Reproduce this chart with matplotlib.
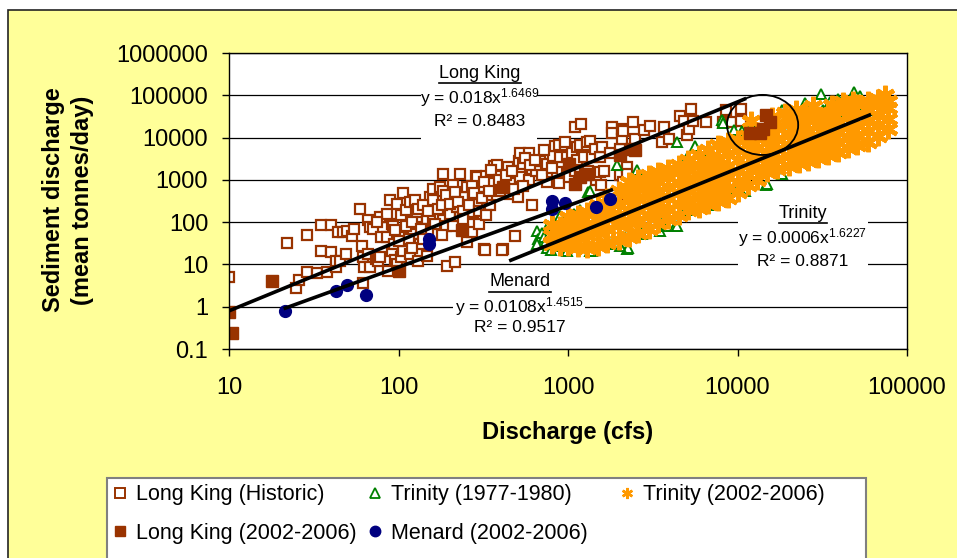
import matplotlib
matplotlib.use("Agg")
import matplotlib.pyplot as plt
import matplotlib.ticker as mticker
from matplotlib.patches import Rectangle, Ellipse
from matplotlib.lines import Line2D

plt.rcParams['font.family'] = ['Liberation Sans', 'DejaVu Sans']
plt.rcParams['mathtext.default'] = 'regular'

# ---- data (discharge cfs, sediment tonnes/day) ----
lk_hist = [
    (10, 5), (22, 32), (25, 2.8), (26, 4.3), (29, 6.5), (29, 50), (33, 6.3), (35, 85), (40, 85),
    (35, 21), (40, 20), (38, 6.5), (43, 8.5), (43, 12), (45, 12), (49, 18), (44, 60), (47, 57),
    (50, 62), (53, 48), (55, 69), (59, 200), (61, 28), (62, 15), (62, 3.7), (63, 8.5), (66, 112),
    (66, 18), (68, 8.5), (68, 75), (71, 70), (74, 13.5), (76, 12), (78, 131), (78, 15), (79, 44),
    (85, 44), (87, 7), (89, 330), (91, 21), (91, 91), (93, 83), (94, 30), (96, 13), (98, 10),
    (98, 275), (103, 145), (103, 15), (106, 500), (107, 21), (107, 44), (111, 190), (117, 18),
    (117, 300), (122, 53), (125, 330), (128, 130), (128, 170), (131, 12), (134, 30), (146, 225),
    (147, 120), (147, 16), (153, 390), (160, 330), (160, 110), (160, 610), (175, 145), (175, 670),
    (183, 110), (184, 1400), (184, 560), (190, 83), (192, 330), (193, 9.3), (200, 160), (210, 740),
    (210, 360), (216, 11.5), (220, 225), (230, 1400), (230, 130), (240, 390), (252, 670), (252, 34),
    (263, 90), (275, 330), (275, 170), (288, 1250), (289, 275), (289, 1150), (296, 470), (301, 670),
    (318, 23), (330, 1250), (331, 390), (345, 250), (345, 900), (360, 830), (365, 2100), (380, 2200),
    (400, 560), (415, 23), (445, 2000), (455, 830), (455, 470), (490, 48), (510, 390), (513, 2800),
    (520, 4400), (520, 1150), (545, 2400), (590, 4400), (590, 1000), (610, 1800), (610, 250),
    (650, 1650), (685, 2800), (750, 900), (750, 2400), (820, 3700), (840, 6200), (860, 1550),
    (880, 830), (880, 6500), (900, 3500), (960, 6500), (960, 8000), (985, 3500), (1020, 1150),
    (1050, 4300), (1100, 17900), (1100, 1650), (1125, 6000), (1125, 2900), (1180, 6500),
    (1200, 21000), (1250, 3500), (1290, 6500), (1290, 1400), (1290, 8000), (1320, 1650),
    (1350, 8500), (1380, 3500), (1440, 5500), (1470, 1000), (1540, 1550), (1540, 3500), (1570, 740),
    (1580, 6000), (1620, 1650), (1770, 4300), (1810, 17900), (1810, 12500), (2030, 5500),
    (2030, 1300), (2080, 9500), (2080, 16000), (2110, 14000), (2110, 900), (2110, 470), (2220, 2000),
    (2230, 1400), (2430, 23000), (2480, 9500), (2790, 15000), (3050, 19000), (3570, 8000),
    (3670, 17900), (3930, 9500), (4580, 33000), (4860, 25000), (5010, 11500), (5200, 16000),
    (5350, 47000), (5470, 25000), (6540, 23000), (8200, 23000), (8600, 45000), (9200, 23000),
    (10500, 47000), (10500, 25000), (325, 22), (410, 22),
    (110, 80), (120, 100), (130, 200), (140, 250), (150, 180), (165, 90), (170, 200), (180, 260),
    (190, 450), (200, 270), (215, 520), (225, 300), (240, 180), (260, 250), (270, 700), (280, 500),
    (300, 180), (310, 380), (320, 900), (340, 560), (350, 1700), (390, 1000), (430, 1300),
    (470, 1600), (480, 600), (540, 700), (560, 3200), (600, 2200), (640, 3000), (700, 1300),
    (720, 5000), (800, 1900), (150, 60), (135, 70), (115, 40), (100, 35), (95, 65), (85, 160),
    (75, 100), (120, 25), (140, 40), (180, 50), (210, 80), (240, 120), (270, 60), (300, 90), (330, 150),
]

trinity_77 = [
    (653, 63), (668, 40), (700, 30), (748, 25), (765, 82), (801, 48), (877, 28), (898, 140), (982, 21),
    (1028, 160), (1178, 190), (1320, 520), (1350, 21), (1692, 30), (1937, 30), (2218, 23), (2218, 52),
    (2660, 63), (3490, 63), (3820, 82), (4280, 82), (4580, 170), (5250, 190), (6890, 250),
    (700, 55), (720, 45), (660, 30), (740, 35), (790, 22), (850, 70), (950, 100), (1080, 160),
    (1350, 560), (1940, 2200), (2540, 1670), (4380, 7900), (5610, 6200), (5010, 3200), (6890, 5000),
    (3490, 120), (4380, 80), (2720, 52), (2270, 25), (1380, 21), (1770, 30), (2030, 27), (5010, 190),
    (9040, 620), (10800, 560), (8070, 26000), (9500, 15000), (10700, 14000), (16000, 14000),
    (18200, 45000), (21000, 19600), (23000, 37000), (25000, 64000), (26700, 28000), (31000, 110000),
    (32000, 45000), (39000, 83000), (44000, 63000), (49000, 120000), (53000, 96000), (50000, 59000),
    (58000, 45000), (42000, 41000), (14800, 740), (9900, 560), (11100, 560), (19500, 14000),
    (21500, 11500), (15000, 780), (10400, 610), (18300, 1350), (8200, 22000), (12000, 20000),
    (60000, 80000), (35000, 70000), (28000, 50000),
]

trinity_02 = [
    (800, 30), (800, 50), (800, 85),
    (900, 28), (900, 48), (900, 80),
    (1000, 27), (1000, 45), (1000, 75), (1000, 130),
    (1150, 26), (1150, 45), (1150, 80), (1150, 150),
    (1300, 25), (1300, 50), (1300, 90), (1300, 170),
    (1500, 28), (1500, 60), (1500, 110), (1500, 200), (1500, 260),
    (1700, 32), (1700, 70), (1700, 130), (1700, 230), (1700, 380),
    (2000, 38), (2000, 85), (2000, 150), (2000, 270), (2000, 560),
    (2300, 45), (2300, 100), (2300, 180), (2300, 330), (2300, 600), (2300, 900),
    (2600, 55), (2600, 115), (2600, 200), (2600, 380), (2600, 700), (2600, 1050),
    (3000, 70), (3000, 140), (3000, 250), (3000, 450), (3000, 800), (3000, 1300),
    (3400, 95), (3400, 170), (3400, 300), (3400, 550), (3400, 950), (3400, 1500),
    (3900, 120), (3900, 210), (3900, 380), (3900, 680), (3900, 1200), (3900, 1800),
    (4500, 150), (4500, 270), (4500, 480), (4500, 850), (4500, 1500), (4500, 2300),
    (5100, 190), (5100, 330), (5100, 600), (5100, 1050), (5100, 1900), (5100, 3000),
    (5900, 220), (5900, 400), (5900, 700), (5900, 1250), (5900, 2300), (5900, 3800),
    (6700, 270), (6700, 480), (6700, 850), (6700, 1500), (6700, 2800), (6700, 5000),
    (7700, 320), (7700, 560), (7700, 1000), (7700, 1800), (7700, 3300), (7700, 6500),
    (8800, 370), (8800, 650), (8800, 1200), (8800, 2100), (8800, 4000), (8800, 7800),
    (10000, 520), (10000, 900), (10000, 1600), (10000, 2900), (10000, 5200), (10000, 9000),
    (11500, 740), (11500, 1300), (11500, 2300), (11500, 4000), (11500, 7200), (11500, 11000),
    (13000, 1000), (13000, 1800), (13000, 3200), (13000, 5600), (13000, 10000), (13000, 13500),
    (15000, 1500), (15000, 2600), (15000, 4600), (15000, 8000), (15000, 15000),
    (17000, 1800), (17000, 3100), (17000, 5500), (17000, 9500), (17000, 18000),
    (20000, 2100), (20000, 3700), (20000, 6500), (20000, 11500), (20000, 21000),
    (23000, 2500), (23000, 4400), (23000, 7700), (23000, 13500), (23000, 25000),
    (26000, 2800), (26000, 5000), (26000, 8800), (26000, 15500), (26000, 28000),
    (30000, 3300), (30000, 5800), (30000, 10500), (30000, 18500), (30000, 33000),
    (34000, 3800), (34000, 6700), (34000, 12000), (34000, 21000), (34000, 38000),
    (39000, 4500), (39000, 8000), (39000, 14000), (39000, 25000), (39000, 45000),
    (45000, 5600), (45000, 9800), (45000, 17500), (45000, 31000), (45000, 52000),
    (51000, 6600), (51000, 11500), (51000, 20000), (51000, 36000), (51000, 62000),
    (59000, 8000), (59000, 14000), (59000, 25000), (59000, 44000), (59000, 75000),
    (67000, 11000), (67000, 20000), (67000, 35000), (67000, 60000), (67000, 80000),
    (77000, 16000), (77000, 28000), (77000, 50000), (77000, 75000), (74000, 100000),
    (16000, 30000), (19000, 38000), (22000, 45000), (25000, 40000), (28000, 55000),
    (36000, 60000), (42000, 70000), (48000, 75000), (12000, 25000),
]

lk_new = [
    (10, 0.75), (10.4, 0.24), (18, 4), (100, 7), (237, 65), (415, 670), (1020, 2400), (1180, 1150),
    (1100, 800), (2340, 5500), (2480, 5000), (2030, 3800), (1320, 1400),
    (14800, 34000), (15500, 23000), (11800, 12500), (13500, 12500), (14200, 16000),
]

menard = [
    (21.5, 0.8), (42.5, 2.3), (49.5, 3.2), (64, 1.85), (152, 40), (152, 30),
    (800, 320), (800, 205), (960, 290), (1470, 230), (1780, 360),
]

# power-law trend lines: (label, a, b, R2, x start, x end)
trends = [
    ("Long King", 0.018, 1.6469, "0.8483", 10, 11000),
    ("Menard", 0.0108, 1.4515, "0.9517", 21.5, 1800),
    ("Trinity", 0.0006, 1.6227, "0.8871", 460, 60000),
]

x_ticks = [10, 100, 1000, 10000, 100000]
x_labels = ["10", "100", "1000", "10000", "100000"]
y_ticks = [0.1, 1, 10, 100, 1000, 10000, 100000, 1000000]
y_labels = ["0.1", "1", "10", "100", "1000", "10000", "100000", "1000000"]

brown = "#993300"
green = "#008000"
orange = "#FF9900"
navy = "#000080"

W, H = 957, 558
fig = plt.figure(figsize=(W / 100, H / 100), dpi=100)
fig.patch.set_facecolor("white")
fig.add_artist(Rectangle((8 / W, -0.05), 1.2, 1 - 10 / H + 0.05, transform=fig.transFigure,
                         facecolor="#FFFF99", edgecolor="#222222", lw=1.2, zorder=-10))

L, R, T, B = 229, 907, 53, 349
ax = fig.add_axes([L / W, 1 - B / H, (R - L) / W, (B - T) / H])
ax.set_facecolor("white")
ax.set_xscale("log")
ax.set_yscale("log")
ax.set_xlim(10, 100000)
ax.set_ylim(0.1, 1000000)
ax.set_xticks(x_ticks)
ax.set_xticklabels(x_labels)
ax.set_yticks(y_ticks)
ax.set_yticklabels(y_labels)
ax.xaxis.set_minor_locator(mticker.NullLocator())
ax.yaxis.set_minor_locator(mticker.NullLocator())
ax.tick_params(axis="both", direction="out", length=5, width=1, colors="black", labelsize=17)
ax.tick_params(axis="y", pad=10)
ax.tick_params(axis="x", pad=15)
ax.set_axisbelow(True)
ax.yaxis.grid(True, color="black", lw=0.9)
for s in ax.spines.values():
    s.set_color("black")
    s.set_linewidth(1.0)


def xy(pts):
    return [p[0] for p in pts], [p[1] for p in pts]


ax.plot(*xy(lk_hist), ls="none", marker="s", ms=7.5, mfc="white", mec=brown, mew=1.6)
ax.plot(*xy(trinity_77), ls="none", marker="^", ms=7, mfc="white", mec=green, mew=1.4)
ax.plot(*xy(trinity_02), ls="none", marker=(6, 2, 0), ms=14, mec=orange, mew=3.2)
ax.plot(*xy(lk_new), ls="none", marker="s", ms=8, mfc=brown, mec=brown)
ax.plot(*xy(menard), ls="none", marker="o", ms=8.5, mfc=navy, mec=navy)

for name, a, b, r2, x0, x1 in trends:
    ax.plot([x0, x1], [a * x0 ** b, a * x1 ** b], color="black", lw=2.6, zorder=5)

# circle around the recent Long King points
ax.add_patch(Ellipse((0.787, 0.757), 0.105, 0.203, transform=ax.transAxes,
                     fill=False, edgecolor="black", lw=1.3, zorder=6))

# trend-line labels (white boxes hide grid lines)
labels = [
    (trends[0], (421, 537, 58, 140), 480, (73, 98, 121)),
    (trends[1], (453, 585, 268, 340), 520, (282, 307, 328)),
    (trends[2], (738, 868, 200, 272), 803, (213, 238, 262)),
]
fig.canvas.draw()
for (name, a, b, r2, x0, x1), (bx0, bx1, by0, by1), cx, (y1, y2, y3) in labels:
    ax.add_patch(Rectangle(((bx0 - L) / (R - L), (B - by1) / (B - T)), (bx1 - bx0) / (R - L),
                           (by1 - by0) / (B - T), transform=ax.transAxes,
                           facecolor="white", edgecolor="none", zorder=1))
    fx = (cx - L) / (R - L)
    t = ax.text(fx, (B - y1) / (B - T), name, ha="center", va="center", fontsize=13,
                transform=ax.transAxes, zorder=7)
    ax.text(fx, (B - y2) / (B - T), "y = %gx$^{%s}$" % (a, "%.4f" % b), ha="center", va="center",
            fontsize=12.5, transform=ax.transAxes, zorder=7)
    ax.text(fx, (B - y3) / (B - T), "R² = " + r2, ha="center", va="center", fontsize=12.5,
            transform=ax.transAxes, zorder=7)
    bb = t.get_window_extent(fig.canvas.get_renderer())
    inv = ax.transAxes.inverted()
    (ux0, uy0), (ux1, uy1) = inv.transform([(bb.x0, bb.y0), (bb.x1, bb.y1)])
    ax.plot([ux0, ux1], [uy0 - 0.005, uy0 - 0.005], color="black", lw=1.2,
            transform=ax.transAxes, zorder=7)

ax.set_xlabel("Discharge (cfs)", fontsize=17, fontweight="bold", va="center")
ax.xaxis.set_label_coords(0.5, (B - 432) / (B - T))
ax.set_ylabel("Sediment discharge\n(mean tonnes/day)", fontsize=17, fontweight="bold",
              va="center", ha="center", linespacing=1.35)
ax.yaxis.set_label_coords((68 - L) / (R - L), (B - 200) / (B - T))

# legend box at the bottom, three columns like the original
lx0, lx1, ltop = 107, 866, 478
fig.add_artist(Rectangle((lx0 / W, -0.05), (lx1 - lx0) / W, 1 - ltop / H + 0.05,
                         transform=fig.transFigure, facecolor="white", edgecolor="#808080",
                         lw=1.5, zorder=1))


def proxy(**kw):
    return Line2D([], [], ls="none", **kw)


columns = [
    (106, [(proxy(marker="s", ms=6.5, mfc="white", mec=brown, mew=1.4), "Long King (Historic)"),
           (proxy(marker="s", ms=7, mfc=brown, mec=brown), "Long King (2002-2006)")]),
    (361, [(proxy(marker="^", ms=6.5, mfc="white", mec=green, mew=1.3), "Trinity (1977-1980)"),
           (proxy(marker="o", ms=7.5, mfc=navy, mec=navy), "Menard (2002-2006)")]),
    (613, [(proxy(marker=(6, 2, 0), ms=8, mec=orange, mew=1.8), "Trinity (2002-2006)")]),
]
for cx0, items in columns:
    leg = fig.legend([h for h, _ in items], [s for _, s in items], loc="upper left",
                     bbox_to_anchor=(cx0 / W, 1 - ltop / H), frameon=False, fontsize=15.5,
                     borderpad=0.3, borderaxespad=0, handlelength=0.7, handletextpad=0.4,
                     labelspacing=0.8)
    leg.set_zorder(2)

fig.savefig("out.png", dpi=100, facecolor=fig.get_facecolor())
